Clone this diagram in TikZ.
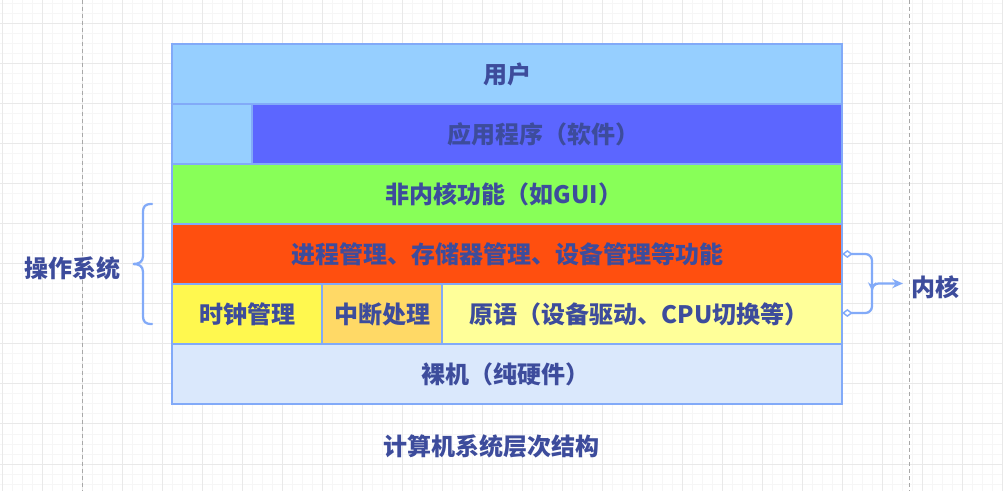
\documentclass[tikz,border=0pt]{standalone}
\usepackage{fontspec}
\setmainfont{Noto Sans CJK SC}
\usetikzlibrary{arrows.meta}
\definecolor{bd}{HTML}{82AAF8}
\definecolor{tx}{HTML}{3D4C9C}
\definecolor{cuser}{HTML}{96CFFF}
\definecolor{capp}{HTML}{5C66FF}
\definecolor{cgreen}{HTML}{88FF58}
\definecolor{corange}{HTML}{FF4F0F}
\definecolor{cclock}{HTML}{FFF84F}
\definecolor{cint}{HTML}{FFD966}
\definecolor{cprim}{HTML}{FFFF99}
\definecolor{cbare}{HTML}{DAE8FC}
\definecolor{gminor}{HTML}{F6F6F6}
\definecolor{gmajor}{HTML}{E9E9E9}
\definecolor{gdash}{HTML}{A8A8A8}
\begin{document}
\begin{tikzpicture}[x=0.75pt,y=-0.75pt,
  cell/.style={draw=bd, line width=1.5pt},
  lbl/.style={text=tx, font=\fontsize{18}{20}\selectfont\bfseries, inner sep=0pt},
  conn/.style={draw=bd, line width=1.7pt},
  minorline/.style={draw=gminor, line width=0.75pt},
  majorline/.style={draw=gmajor, line width=0.75pt},
  guide/.style={draw=gdash, line width=0.75pt, dash pattern=on 3pt off 2.25pt}]
\useasboundingbox (0,0) rectangle (1003,491);
\fill[white] (0,0) rectangle (1003,491);
\begin{scope}
\clip (0,0) rectangle (1003,491);
\foreach \x in {2.7,12.7,...,1002.7} \draw[minorline] (\x,0) -- (\x,491);
\foreach \y in {4,14,...,494} \draw[minorline] (0,\y) -- (1003,\y);
\foreach \x in {2.7,42.7,...,1002.7} \draw[majorline] (\x,0) -- (\x,491);
\foreach \y in {24,64,...,504} \draw[majorline] (0,\y) -- (1003,\y);
\draw[guide] (82.7,0) -- (82.7,491);
\draw[guide] (909.3,0) -- (909.3,491);
\end{scope}
% cells
\path[cell, fill=cuser] (172,44) rectangle (842,104);
\path[cell, fill=cuser] (172,104) rectangle (252,164);
\path[cell, fill=capp] (252,104) rectangle (842,164);
\path[cell, fill=cgreen] (172,164) rectangle (842,224);
\path[cell, fill=corange] (172,224) rectangle (842,284);
\path[cell, fill=cclock] (172,284) rectangle (322,344);
\path[cell, fill=cint] (322,284) rectangle (442,344);
\path[cell, fill=cprim] (442,284) rectangle (842,344);
\path[cell, fill=cbare] (172,344) rectangle (842,404);
% labels
\node[lbl] (user) at (507,74) {用户};
\node[lbl] (app) at (543,134) {应用程序（软件）};
\node[lbl] (nonk) at (504,194) {非内核功能（如GUI）};
\node[lbl] (proc) at (507,254) {进程管理、存储器管理、设备管理等功能};
\node[lbl] (clock) at (247,314) {时钟管理};
\node[lbl] (intr) at (382,314) {中断处理};
\node[lbl] (prim) at (639,314) {原语（设备驱动、CPU切换等）};
\node[lbl] (bare) at (505,374) {裸机（纯硬件）};
\node[lbl] (os) at (72,268) {操作系统};
\node[lbl] (kern) at (935,287) {内核};
\node[lbl] (cap) at (491,446) {计算机系统层次结构};
% brace
\draw[conn, line cap=round] (152,204) .. controls (145,204) and (143,206) .. (143,213) -- (143,256) .. controls (143,262) and (139,264) .. (133,264) .. controls (139,264) and (143,266) .. (143,272) -- (143,315) .. controls (143,322) and (145,324) .. (152,324);
% kernel connectors
\coordinate (d1) at (842,254);
\coordinate (d2) at (842,313);
\coordinate (j1) at (872,254);
\coordinate (j2) at (872,313);
\coordinate (jm) at (872,283.5);
\coordinate (tip) at (903,283.5);
\draw[conn, rounded corners=5pt, {Diamond[length=8pt,width=6pt,fill=white,line width=1.1pt]}-{Stealth[length=6.5pt,width=6pt]}] (d1) -- (j1) -- (872,291);
\draw[conn, rounded corners=5pt, {Diamond[length=8pt,width=6pt,fill=white,line width=1.1pt]}-{Stealth[length=8pt,width=7pt]}] (d2) -- (j2) -- (jm) -- (tip);
\end{tikzpicture}
\end{document}
